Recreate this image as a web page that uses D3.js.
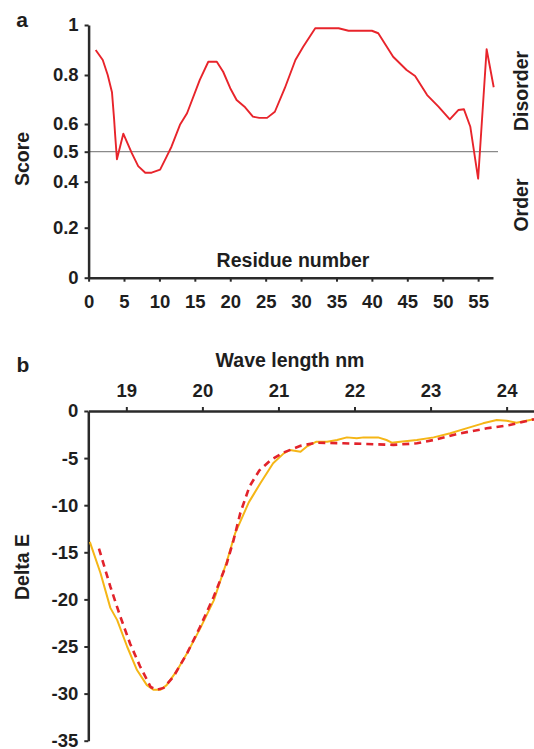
<!DOCTYPE html>
<html>
<head>
<meta charset="utf-8">
<script src="https://cdn.jsdelivr.net/npm/d3@7"></script>
<style>
  html, body { margin: 0; padding: 0; background: #fff; }
  svg { display: block; font-family: "Liberation Sans", Arial, sans-serif; font-weight: bold; }
  .axis path, .axis line { stroke: #2a2a2a; }
  .axis path { stroke-width: 2.5; }
  .axis line { stroke-width: 2; }
  .axis text { fill: #1e1e1e; font-size: 18.5px; font-family: "Liberation Sans", Arial, sans-serif; font-weight: bold; }
  .label { fill: #1e1e1e; font-size: 19.5px; }
</style>
</head>
<body>
<svg id="chart" width="534" height="749" viewBox="0 0 534 749"></svg>
<script>
// panel a: disorder score per residue
const scoreResidue = [1.0, 2.0, 2.7, 3.3, 3.6, 3.75, 4.0, 4.9, 6.1, 7.0, 8.0, 8.9, 10.1, 11.0, 11.7, 12.9, 13.9, 15.7, 16.9, 18.1, 19.0, 20.0, 20.9, 22.1, 23.2, 24.1, 25.2, 26.3, 27.7, 29.2, 30.3, 32.0, 35.3, 36.7, 40.0, 40.9, 43.0, 44.9, 46.1, 47.8, 49.4, 51.0, 52.2, 53.0, 53.9, 55.0, 56.2, 57.2];
const scoreValue = [0.90, 0.86, 0.80, 0.73, 0.62, 0.56, 0.475, 0.565, 0.495, 0.452, 0.43, 0.43, 0.44, 0.483, 0.518, 0.597, 0.644, 0.78, 0.853, 0.853, 0.813, 0.746, 0.698, 0.668, 0.63, 0.625, 0.625, 0.65, 0.746, 0.86, 0.913, 0.987, 0.987, 0.977, 0.977, 0.967, 0.873, 0.82, 0.796, 0.718, 0.671, 0.619, 0.657, 0.66, 0.59, 0.41, 0.903, 0.75];
const scoreTicks = [0, 0.2, 0.4, 0.5, 0.6, 0.8, 1];
const residueTicks = [0, 5, 10, 15, 20, 25, 30, 35, 40, 45, 50, 55];
const threshold = 0.5;

// panel b: measured (solid) and fitted (dashed) curves
const measuredWave = [18.52, 18.66, 18.79, 18.88, 19.01, 19.14, 19.27, 19.36, 19.45, 19.53, 19.67, 19.80, 19.97, 20.15, 20.32, 20.43, 20.61, 20.76, 20.93, 21.07, 21.15, 21.29, 21.37, 21.50, 21.64, 21.77, 21.90, 22.03, 22.12, 22.20, 22.31, 22.42, 22.49, 22.60, 22.82, 23.04, 23.26, 23.47, 23.69, 23.87, 24.00, 24.13, 24.26, 24.36];
const measuredDelta = [-13.9, -17.2, -20.9, -22.2, -25.0, -27.5, -29.1, -29.6, -29.6, -29.1, -27.5, -25.7, -23.1, -20.1, -16.0, -13.0, -9.7, -7.7, -5.55, -4.5, -4.14, -4.32, -3.79, -3.26, -3.26, -3.08, -2.8, -2.9, -2.8, -2.8, -2.8, -3.08, -3.36, -3.26, -3.08, -2.8, -2.37, -1.84, -1.31, -0.96, -1.03, -1.24, -1.03, -0.88];
const fittedWave = [18.64, 18.79, 18.92, 19.05, 19.18, 19.32, 19.40, 19.49, 19.62, 19.80, 19.97, 20.15, 20.32, 20.41, 20.50, 20.62, 20.75, 20.90, 21.07, 21.29, 21.50, 21.85, 22.16, 22.51, 22.82, 23.04, 23.39, 23.74, 24.04, 24.36];
const fittedDelta = [-14.6, -18.65, -21.8, -24.7, -27.1, -29.3, -29.6, -29.4, -28.2, -25.7, -22.9, -19.7, -16.2, -13.7, -10.8, -8.0, -6.3, -5.2, -4.4, -3.7, -3.36, -3.43, -3.5, -3.6, -3.43, -3.08, -2.37, -1.84, -1.49, -0.88];
const waveTicks = [19, 20, 21, 22, 23, 24];
const deltaTicks = [0, -5, -10, -15, -20, -25, -30, -35];

const svg = d3.select("#chart");

function addText(x, y, text, opts = {}) {
  const node = svg.append("text")
    .attr("class", "label")
    .attr("text-anchor", opts.anchor || "middle")
    .attr("transform", opts.rotate ? `translate(${x},${y}) rotate(-90)` : `translate(${x},${y})`)
    .text(text);
  if (opts.size) node.style("font-size", opts.size);
  return node;
}

// ---- panel a ----
const xA = d3.scaleLinear().domain([0, 57.1]).range([88.6, 493]);
const yA = d3.scaleLinear()
  .domain([0, 0.2, 0.4, 0.5, 0.6, 0.8, 1])
  .range([277.7, 227.7, 181.7, 151.7, 124, 75, 25]);

svg.append("line")
  .attr("x1", xA(0)).attr("x2", 498)
  .attr("y1", yA(threshold)).attr("y2", yA(threshold))
  .attr("stroke", "#8a8a8a").attr("stroke-width", 1.3);

svg.append("g")
  .attr("class", "axis")
  .attr("transform", `translate(0,${yA(0)})`)
  .call(d3.axisBottom(xA).tickValues(residueTicks).tickFormat(d3.format("d")).tickSize(4).tickPadding(13).tickSizeOuter(0));

svg.append("g")
  .attr("class", "axis")
  .attr("transform", `translate(${xA(0)},0)`)
  .call(d3.axisLeft(yA).tickValues(scoreTicks).tickFormat(d3.format("")).tickSize(4).tickPadding(6).tickSizeOuter(0));

const scorePoints = scoreResidue.map((r, i) => [r, scoreValue[i]]);
svg.append("path")
  .attr("d", d3.line().x(d => xA(d[0])).y(d => yA(d[1]))(scorePoints))
  .attr("fill", "none")
  .attr("stroke", "#e8242b")
  .attr("stroke-width", 1.9)
  .attr("stroke-linejoin", "round");

addText(22, 27, "a", { size: "21px" });
addText(293, 267, "Residue number");
addText(28.5, 159, "Score", { rotate: true });
addText(528, 91, "Disorder", { rotate: true });
addText(528, 205, "Order", { rotate: true });

// ---- panel b ----
const xB = d3.scaleLinear().domain([18.5, 24.36]).range([88.3, 534]);
const yB = d3.scaleLinear().domain([-35, 0]).range([740.7, 411]);

svg.append("g")
  .attr("class", "axis")
  .attr("transform", `translate(0,${yB(0)})`)
  .call(d3.axisTop(xB).tickValues(waveTicks).tickFormat(d3.format("d")).tickSize(4).tickPadding(10).tickSizeOuter(0));

svg.append("g")
  .attr("class", "axis")
  .attr("transform", `translate(${xB(18.5)},0)`)
  .call(d3.axisLeft(yB).tickValues(deltaTicks).tickFormat(d3.format("d")).tickSize(4).tickPadding(6).tickSizeOuter(0));

// d3.format uses a unicode minus; use a plain hyphen like the original
svg.selectAll(".axis text").text(function () { return this.textContent.replace("\u2212", "-"); });

const lineB = d3.line().x(d => xB(d[0])).y(d => yB(d[1]));

svg.append("path")
  .attr("d", lineB(measuredWave.map((w, i) => [w, measuredDelta[i]])))
  .attr("fill", "none")
  .attr("stroke", "#f5b616")
  .attr("stroke-width", 2)
  .attr("stroke-linejoin", "round");

svg.append("path")
  .attr("d", lineB(fittedWave.map((w, i) => [w, fittedDelta[i]])))
  .attr("fill", "none")
  .attr("stroke", "#e2232b")
  .attr("stroke-width", 2.6)
  .attr("stroke-dasharray", "7,5");

addText(23, 371.5, "b", { size: "21px" });
addText(290, 367, "Wave length nm");
addText(29, 567, "Delta E", { rotate: true });
</script>
</body>
</html>
